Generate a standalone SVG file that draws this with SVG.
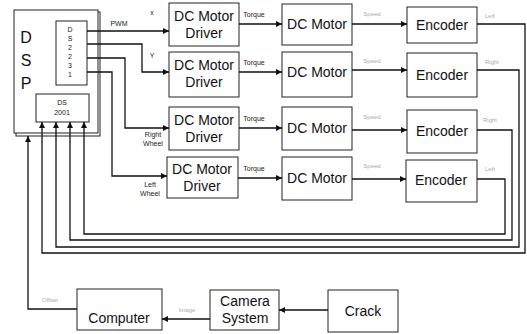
<svg xmlns="http://www.w3.org/2000/svg" width="527" height="334" viewBox="0 0 527 334">
<style>
.box{fill:#fff;stroke:#222;stroke-width:1}
.ln{fill:none;stroke:#111;stroke-width:1.3}
.t{font-family:"Liberation Sans",Arial,sans-serif;font-size:14px;fill:#111;text-anchor:middle}
.s{font-family:"Liberation Sans",Arial,sans-serif;font-size:7px;fill:#222;text-anchor:middle}
.g{font-family:"Liberation Sans",Arial,sans-serif;font-size:6px;fill:#aaa;text-anchor:middle}
.b{font-family:"Liberation Sans",Arial,sans-serif;font-size:16px;fill:#111;text-anchor:middle}
</style>
<defs>
<marker id="ar" viewBox="0 0 10 10" refX="10" refY="5" markerWidth="7" markerHeight="6" markerUnits="userSpaceOnUse" orient="auto"><path d="M0,0L10,5L0,10z" fill="#111"/></marker>
</defs>
<g id="dsp">
<rect x="16" y="12" width="84" height="124" class="box"/>
<rect x="14" y="10" width="84" height="123" class="box"/>
<text x="26" y="43" class="b">D</text>
<text x="26" y="66" class="b">S</text>
<text x="26" y="89" class="b">P</text>
</g>
<g id="ds2231">
<rect x="56" y="21" width="31" height="64" class="box"/>
<text x="70" y="32" class="s">D</text>
<text x="70" y="41" class="s">S</text>
<text x="70" y="50" class="s">2</text>
<text x="70" y="59" class="s">2</text>
<text x="70" y="68" class="s">3</text>
<text x="70" y="77" class="s">1</text>
</g>
<g id="ds2001">
<rect x="36" y="94" width="53" height="28" class="box"/>
<text x="62" y="105" class="s">DS</text>
<text x="62" y="115" class="s">2001</text>
</g>
<g id="driver1"><rect x="169" y="3" width="70" height="43" class="box"/><text x="204" y="21" class="t">DC Motor</text><text x="204" y="38" class="t">Driver</text></g>
<g id="driver2"><rect x="169" y="52" width="70" height="45" class="box"/><text x="204" y="70" class="t">DC Motor</text><text x="204" y="87" class="t">Driver</text></g>
<g id="driver3"><rect x="169" y="107" width="70" height="43" class="box"/><text x="204" y="125" class="t">DC Motor</text><text x="204" y="142" class="t">Driver</text></g>
<g id="driver4"><rect x="167" y="157" width="71" height="41" class="box"/><text x="202" y="174" class="t">DC Motor</text><text x="202" y="191" class="t">Driver</text></g>
<g id="motor1"><rect x="282" y="4" width="70" height="41" class="box"/><text x="317" y="29" class="t">DC Motor</text></g>
<g id="motor2"><rect x="282" y="52" width="70" height="45" class="box"/><text x="317" y="77" class="t">DC Motor</text></g>
<g id="motor3"><rect x="282" y="107" width="70" height="43" class="box"/><text x="317" y="133" class="t">DC Motor</text></g>
<g id="motor4"><rect x="282" y="157" width="70" height="43" class="box"/><text x="317" y="183" class="t">DC Motor</text></g>
<g id="encoder1"><rect x="407" y="7" width="70" height="36" class="box"/><text x="442" y="30" class="t">Encoder</text></g>
<g id="encoder2"><rect x="407" y="53" width="70" height="44" class="box"/><text x="442" y="80" class="t">Encoder</text></g>
<g id="encoder3"><rect x="407" y="110" width="70" height="43" class="box"/><text x="442" y="136" class="t">Encoder</text></g>
<g id="encoder4"><rect x="406" y="160" width="71" height="42" class="box"/><text x="441" y="185" class="t">Encoder</text></g>
<g id="computer"><rect x="77" y="289" width="85" height="41" class="box"/><text x="119" y="323" class="t">Computer</text></g>
<g id="camera"><rect x="210" y="290" width="69" height="40" class="box"/><text x="245" y="306" class="t">Camera</text><text x="245" y="323" class="t">System</text></g>
<g id="crack"><rect x="328" y="290" width="70" height="42" class="box"/><text x="363" y="316" class="t">Crack</text></g>
<g id="connectors">
<path d="M87,31H169" class="ln" marker-end="url(#ar)"/>
<path d="M87,44H142V72H169" class="ln" marker-end="url(#ar)"/>
<path d="M87,58H125V128H169" class="ln" marker-end="url(#ar)"/>
<path d="M87,72H112V176H167" class="ln" marker-end="url(#ar)"/>
<path d="M239,24H282" class="ln" marker-end="url(#ar)"/>
<path d="M239,72H282" class="ln" marker-end="url(#ar)"/>
<path d="M239,128H282" class="ln" marker-end="url(#ar)"/>
<path d="M238,178H282" class="ln" marker-end="url(#ar)"/>
<path d="M352,24H407" class="ln" marker-end="url(#ar)"/>
<path d="M352,70H407" class="ln" marker-end="url(#ar)"/>
<path d="M352,130H407" class="ln" marker-end="url(#ar)"/>
<path d="M352,179H406" class="ln" marker-end="url(#ar)"/>
<path d="M477,24H525V253H42V122" class="ln" marker-end="url(#ar)"/>
<path d="M477,70H519V247H56V122" class="ln" marker-end="url(#ar)"/>
<path d="M477,130H512V240H70V122" class="ln" marker-end="url(#ar)"/>
<path d="M477,179H505V234H84V122" class="ln" marker-end="url(#ar)"/>
<path d="M328,310H279" class="ln" marker-end="url(#ar)"/>
<path d="M210,319H162" class="ln" marker-end="url(#ar)"/>
<path d="M77,309H28V136" class="ln" marker-end="url(#ar)"/>
<text x="119" y="26" class="s">PWM</text>
<text x="152" y="15" class="s">x</text>
<text x="152" y="58" class="s">Y</text>
<text x="153" y="137" class="s">Right</text>
<text x="153" y="146" class="s">Wheel</text>
<text x="150" y="187" class="s">Left</text>
<text x="150" y="196" class="s">Wheel</text>
<text x="254" y="17" class="s">Torque</text>
<text x="254" y="65" class="s">Torque</text>
<text x="254" y="121" class="s">Torque</text>
<text x="254" y="171" class="s">Torque</text>
<text x="372" y="16" class="g">Speed</text>
<text x="372" y="63" class="g">Speed</text>
<text x="372" y="119" class="g">Speed</text>
<text x="372" y="168" class="g">Speed</text>
<text x="490" y="18" class="g">Left</text>
<text x="492" y="64" class="g">Right</text>
<text x="490" y="122" class="g">Right</text>
<text x="490" y="171" class="g">Left</text>
<text x="50" y="302" class="g">Offset</text>
<text x="187" y="312" class="g">Image</text>
</g>
</svg>
